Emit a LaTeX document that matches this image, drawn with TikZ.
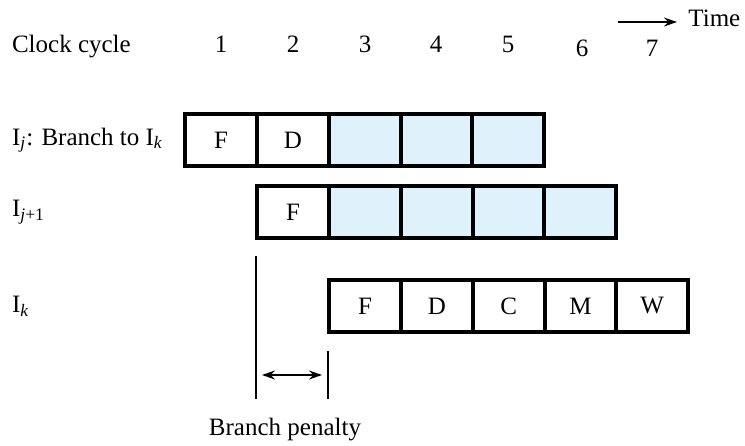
\documentclass[tikz,border=0pt]{standalone}
\usepackage{fontspec}
\setmainfont{Liberation Serif}
\usepackage{xcolor}
\usetikzlibrary{arrows.meta,positioning}
\definecolor{stallblue}{RGB}{223,241,250}

\begin{document}
\begin{tikzpicture}[
  x=0.5pt, y=-0.5pt,
  font=\fontsize{12.5}{14}\selectfont,
  >={Stealth[length=6.5pt, width=4.5pt]},
  cell/.style={draw, line width=2pt, outer sep=0pt, minimum width=35.9pt, minimum height=26pt, inner sep=0pt},
  stall/.style={cell, fill=stallblue},
  label/.style={anchor=west},
  thin/.style={line width=0.8pt}
]
  \useasboundingbox (0,0) rectangle (745,445);

  % time axis
  \coordinate (tstart) at (618,22);
  \coordinate (tend) at (677,22);
  \draw[thin, ->] (tstart) -- (tend);
  \node[anchor=west, inner sep=0pt] (time) at (688,18) {Time};

  \node[label] (clock) at (5,47) {Clock cycle};
  \node (c1) at (221,44) {1};
  \node (c2) at (293,44) {2};
  \node (c3) at (365,44) {3};
  \node (c4) at (436,44) {4};
  \node (c5) at (508,44) {5};
  \node (c6) at (582,48) {6};
  \node (c7) at (652,48) {7};

  % branch instruction
  \node[label] (ij) at (5,140) {I\textsubscript{\textit{j}}: Branch to I\textsubscript{\textit{k}}};
  \node[cell] (a1) at (221,140) {F};
  \node[cell, right=0pt of a1] (a2) {D};
  \node[stall, right=0pt of a2] (a3) {};
  \node[stall, right=0pt of a3] (a4) {};
  \node[stall, right=0pt of a4] (a5) {};

  % next sequential instruction
  \node[label] (ij1) at (5,212) {I\textsubscript{\textit{j}+1}};
  \node[cell] (b1) at (293,212) {F};
  \node[stall, right=0pt of b1] (b2) {};
  \node[stall, right=0pt of b2] (b3) {};
  \node[stall, right=0pt of b3] (b4) {};
  \node[stall, right=0pt of b4] (b5) {};

  % branch target
  \node[label] (ik) at (5,306) {I\textsubscript{\textit{k}}};
  \node[cell] (k1) at (365,306) {F};
  \node[cell, right=0pt of k1] (k2) {D};
  \node[cell, right=0pt of k2] (k3) {C};
  \node[cell, right=0pt of k3] (k4) {M};
  \node[cell, right=0pt of k4] (k5) {W};

  % penalty marker
  \coordinate (pltop) at (256,256);
  \coordinate (plbot) at (256,399);
  \coordinate (prtop) at (328,351);
  \coordinate (prbot) at (328,399);
  \draw[thin] (pltop) -- (plbot);
  \draw[thin] (prtop) -- (prbot);
  \coordinate (pl) at (256,375);
  \coordinate (pr) at (328,375);
  \draw[thin, <->, shorten <=3pt, shorten >=3pt] (pl) -- (pr);
  \node (penalty) at (285,430) {Branch penalty};
\end{tikzpicture}
\end{document}
